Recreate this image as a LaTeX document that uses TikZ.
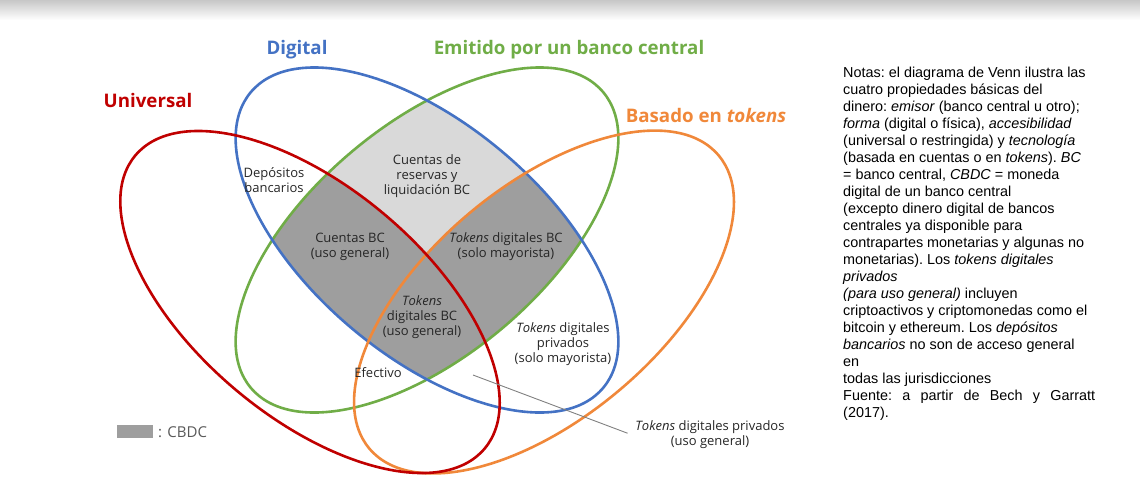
\documentclass[tikz,border=0pt]{standalone}
\usepackage{fontspec}
\setmainfont{Liberation Sans}
\newfontfamily\vennfont{Open Sans}
\definecolor{univred}{HTML}{C00000}
\definecolor{digblue}{HTML}{4472C4}
\definecolor{bcgreen}{HTML}{70AD47}
\definecolor{tokorange}{HTML}{F0883A}
\definecolor{lightcbdc}{HTML}{D9D9D9}
\definecolor{darkcbdc}{HTML}{9E9E9E}
\definecolor{labelgray}{HTML}{262626}
\newcommand{\univpath}{(310,302) ellipse [x radius=228pt, y radius=115pt, rotate=-40]}
\newcommand{\digpath}{(427,240) ellipse [x radius=230pt, y radius=116pt, rotate=-40]}
\newcommand{\bcpath}{(427,240) ellipse [x radius=230pt, y radius=116pt, rotate=40]}
\newcommand{\tokpath}{(544,302) ellipse [x radius=228pt, y radius=116pt, rotate=40]}
\tikzset{
  setline/.style={line width=2.6pt},
  settitle/.style={font=\vennfont\fontsize{18.7}{22}\selectfont\bfseries},
  arealabel/.style={font=\vennfont\fontsize{13}{15}\selectfont, text=labelgray, align=center, inner sep=1pt}
}
\begin{document}
\begin{tikzpicture}[x=1pt, y=-1pt]
\useasboundingbox (0,0) rectangle (1140,483);
\shade[top color=black!22, bottom color=white] (0,0) rectangle (1140,20);
% shaded areas
\begin{scope}
\clip \digpath;
\fill[lightcbdc] \bcpath;
\begin{scope}
\clip \bcpath;
\fill[darkcbdc] \univpath;
\fill[darkcbdc] \tokpath;
\end{scope}
\end{scope}
% the four sets
\draw[setline, bcgreen] \bcpath;
\draw[setline, digblue] \digpath;
\draw[setline, tokorange] \tokpath;
\draw[setline, univred] \univpath;
\node[settitle, text=digblue] (digital) at (297,50) {Digital};
\node[settitle, text=univred] (universal) at (148,100) {Universal};
\node[settitle, text=bcgreen] (emitido) at (569,50) {Emitido por un banco central};
\node[settitle, text=tokorange] (basado) at (706,115) {Basado en \textit{tokens}};
\node[arealabel] (depositos) at (274,180) {Depósitos\\bancarios};
\node[arealabel] (reservas) at (427,176) {Cuentas de\\reservas y\\liquidación BC};
\node[arealabel] (cuentasbc) at (350,247) {Cuentas BC\\(uso general)};
\node[arealabel] (tokbcmay) at (506,247) {\textit{Tokens} digitales BC\\(solo mayorista)};
\node[arealabel] (tokbcgen) at (422,317) {\textit{Tokens}\\digitales BC\\(uso general)};
\node[arealabel] (tokprivmay) at (563,344) {\textit{Tokens} digitales\\privados\\(solo mayorista)};
\node[arealabel] (efectivo) at (378,373) {Efectivo};
\node[arealabel, inner sep=3pt] (tokprivgen) at (710,435) {\textit{Tokens} digitales privados\\(uso general)};
\coordinate (tokprivpt) at (473,375);
\draw[gray, line width=0.9pt, shorten >=5pt] (tokprivpt) -- (tokprivgen.west);
% legend
\fill[darkcbdc] (117,425) rectangle (153,438);
\node[anchor=west, font=\vennfont\fontsize{15}{17}\selectfont, text=black!65, inner sep=0pt] (leyenda) at (158,432) {: CBDC};
% notes
\node[anchor=north west, align=left, inner sep=0pt, font=\fontsize{14.4}{17}\selectfont\frenchspacing] (notas) at (843,67) {Notas: el diagrama de Venn ilustra las\\
cuatro propiedades básicas del\\
dinero: \textit{emisor} (banco central u otro);\\
\textit{forma} (digital o física), \textit{accesibilidad}\\
(universal o restringida) y \textit{tecnología}\\
(basada en cuentas o en \textit{tokens}). \textit{BC}\\
= banco central, \textit{CBDC} = moneda\\
digital de un banco central\\
(excepto dinero digital de bancos\\
centrales ya disponible para\\
contrapartes monetarias y algunas no\\
monetarias). Los \textit{tokens digitales}\\
\textit{privados}\\
\textit{(para uso general)} incluyen\\
criptoactivos y criptomonedas como el\\
bitcoin y ethereum. Los \textit{depósitos}\\
\textit{bancarios} no son de acceso general\\
en\\
todas las jurisdicciones\\
\makebox[252pt][s]{Fuente: a partir de Bech y Garratt}\\
(2017).};
\end{tikzpicture}
\end{document}
